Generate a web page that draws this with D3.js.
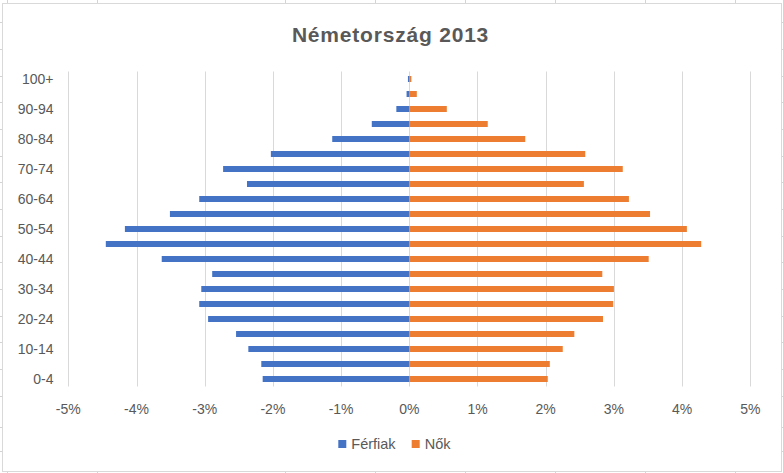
<!DOCTYPE html>
<html>
<head>
<meta charset="utf-8">
<script src="https://cdn.jsdelivr.net/npm/d3@7"></script>
<style>
  html, body { margin: 0; padding: 0; background: #fff; }
  svg { display: block; }
  text { font-family: "Liberation Sans", Arial, sans-serif; fill: #595959; }
</style>
</head>
<body>
<script>
// ---- data ----
const ageGroups = ["0-4","5-9","10-14","15-19","20-24","25-29","30-34","35-39","40-44","45-49",
                   "50-54","55-59","60-64","65-69","70-74","75-79","80-84","85-89","90-94","95-99","100+"];
const ferfiak = [-2.15,-2.17,-2.36,-2.54,-2.95,-3.08,-3.05,-2.89,-3.63,-4.45,
                 -4.17,-3.51,-3.08,-2.38,-2.73,-2.03,-1.13,-0.55,-0.19,-0.04,-0.02];
const nok     = [2.03,2.06,2.25,2.42,2.84,2.99,3.00,2.83,3.51,4.28,
                 4.07,3.53,3.22,2.56,3.13,2.58,1.70,1.15,0.55,0.11,0.03];
const xTicks = [-5,-4,-3,-2,-1,0,1,2,3,4,5];
const seriesNames = ["Férfiak","Nők"];
const seriesColors = ["#4472C4","#ED7D31"];
const title = "Németország 2013";

// ---- layout ----
const W = 783, H = 473;
const svg = d3.select("body").append("svg").attr("width", W).attr("height", H);

// spreadsheet cell lines behind the chart
const sheet = svg.append("g").attr("stroke", "#d4d4d4").attr("stroke-width", 1);
[7.5, 97.5, 285.5, 375.5, 465.5, 555.5, 645.5, 735.5].forEach(x =>
  sheet.append("line").attr("x1", x).attr("x2", x).attr("y1", 0).attr("y2", H));
[22.5, 49.5, 76.5, 102.5, 129.5, 156.5, 182.5, 209.5, 236.5, 262.5, 289.5, 316.5, 342.5, 369.5, 396.5, 427.5, 451.5].forEach(y =>
  sheet.append("line").attr("x1", 0).attr("x2", W).attr("y1", y).attr("y2", y));

// chart area
svg.append("rect").attr("x", 2.5).attr("y", 3.5).attr("width", 779).attr("height", 468)
  .attr("fill", "#fff").attr("stroke", "#d9d9d9").attr("stroke-width", 1);

const x = d3.scaleLinear().domain([-5, 5]).range([68.3, 750.3]);
const y = d3.scaleBand().domain(ageGroups.slice().reverse()).range([71.5, 386.5])
  .paddingInner(0.6).paddingOuter(0.3);

// gridlines
svg.append("g").selectAll("line").data(xTicks).join("line")
  .attr("x1", d => Math.round(x(d)) + 0.5).attr("x2", d => Math.round(x(d)) + 0.5)
  .attr("y1", 71.5).attr("y2", 386.5)
  .attr("stroke", "#d9d9d9").attr("stroke-width", 1);

// x tick labels
svg.append("g").selectAll("text").data(xTicks).join("text")
  .attr("x", d => x(d)).attr("y", 413.5)
  .attr("text-anchor", "middle").attr("font-size", 14)
  .text(d => d + "%");

// y labels (every other category)
svg.append("g").selectAll("text").data(ageGroups.filter((d, i) => i % 2 === 0)).join("text")
  .attr("x", 53.5).attr("y", d => y(d) + y.bandwidth() / 2 + 5)
  .attr("text-anchor", "end").attr("font-size", 14)
  .text(d => d);

// bars
const bars = svg.append("g");
[ferfiak, nok].forEach((vals, si) => {
  bars.append("g").selectAll("rect").data(vals.map((v, i) => ({ v, g: ageGroups[i] }))).join("rect")
    .attr("x", d => Math.min(x(0), x(d.v)))
    .attr("width", d => Math.abs(x(d.v) - x(0)))
    .attr("y", d => y(d.g))
    .attr("height", y.bandwidth())
    .attr("fill", seriesColors[si]);
});

// title
svg.append("text").attr("x", 390.5).attr("y", 41.7)
  .attr("text-anchor", "middle").attr("font-size", 21).attr("font-weight", "bold")
  .attr("letter-spacing", 0.8)
  .text(title);

// legend
const legend = svg.append("g");
const legendItems = [{ name: seriesNames[0], color: seriesColors[0], x: 338.3 },
                     { name: seriesNames[1], color: seriesColors[1], x: 411.7 }];
legendItems.forEach(it => {
  legend.append("rect").attr("x", it.x).attr("y", 440).attr("width", 8).attr("height", 8).attr("fill", it.color);
  legend.append("text").attr("x", it.x + 13).attr("y", 449.3).attr("font-size", 14.5).text(it.name);
});
</script>
</body>
</html>
